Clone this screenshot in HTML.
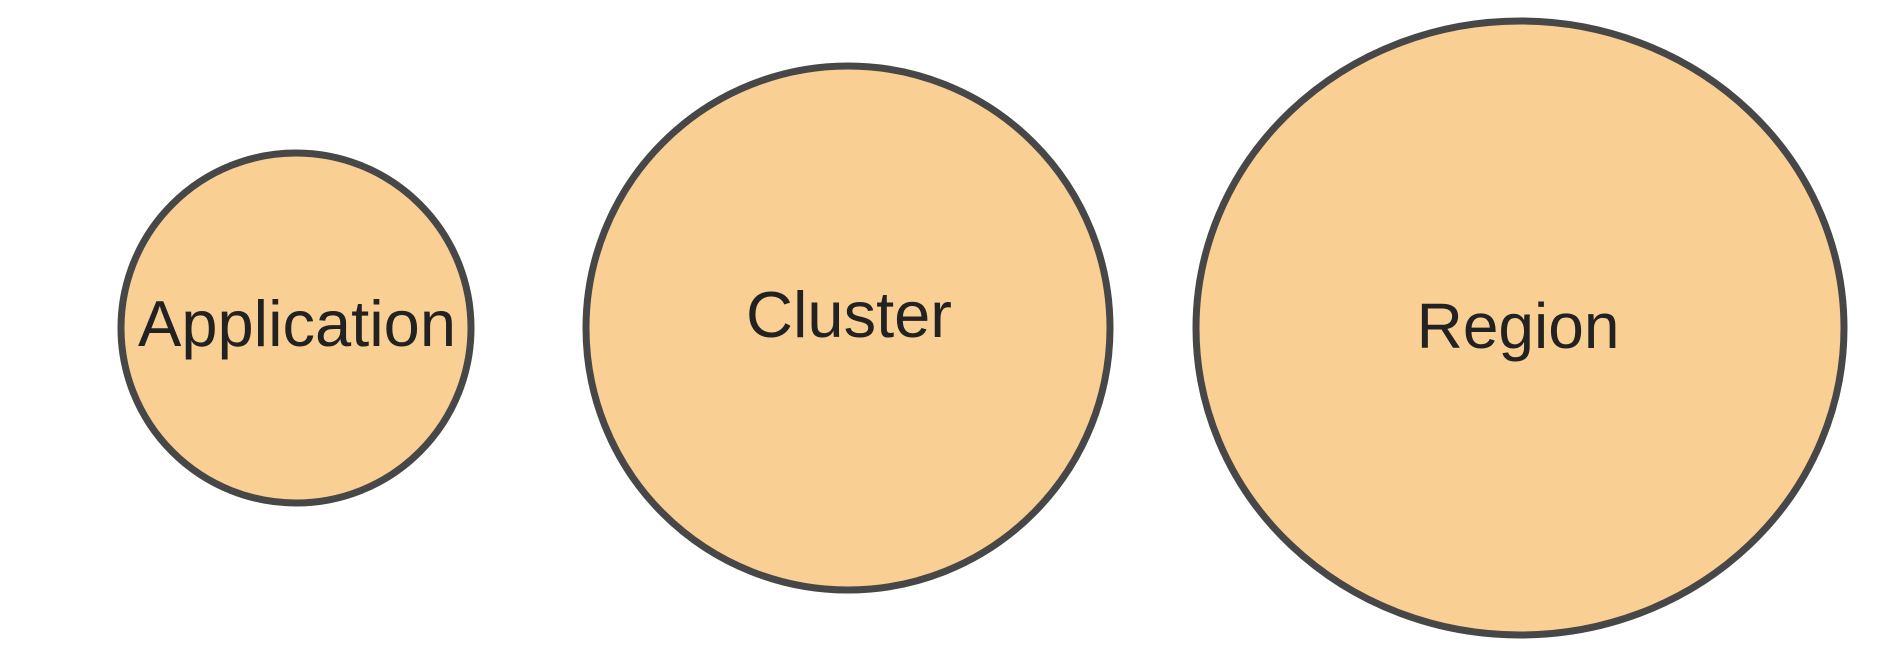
<!DOCTYPE html>
<html><head><style>
html,body{margin:0;padding:0;background:#fff;}
svg{display:block;}
text{font-family:"Liberation Sans",sans-serif;fill:#222;text-anchor:middle;}
</style></head><body>
<svg width="1888" height="662" viewBox="0 0 1888 662">
<g fill="#F9CF94" stroke="#474747" stroke-width="7">
<ellipse cx="296" cy="328" rx="175" ry="175"/>
<ellipse cx="848" cy="328" rx="262" ry="262"/>
<ellipse cx="1520" cy="328" rx="324" ry="307"/>
</g>
<text x="297" y="346" font-size="65">Application</text>
<text x="849" y="337" font-size="65">Cluster</text>
<text x="1518" y="348" font-size="64">Region</text>
</svg>
</body></html>
